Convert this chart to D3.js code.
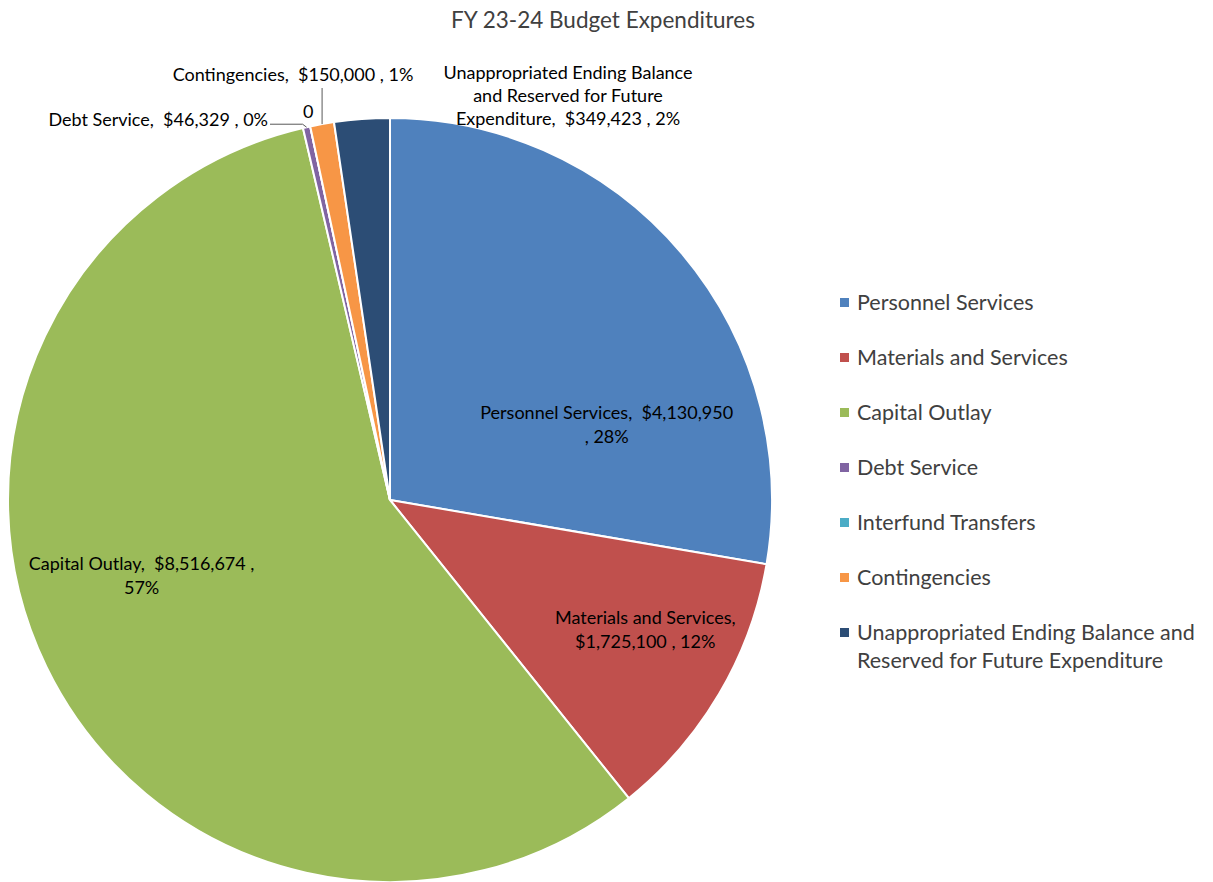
<!DOCTYPE html>
<html>
<head>
<meta charset="utf-8">
<script src="https://cdn.jsdelivr.net/npm/d3@7"></script>
<style>
  body { margin: 0; background: #fff; }
  text { font-family: Lato, "Open Sans", sans-serif; white-space: pre; }
</style>
</head>
<body>
<div id="chart"></div>
<script>
const categories = [
  "Personnel Services",
  "Materials and Services",
  "Capital Outlay",
  "Debt Service",
  "Interfund Transfers",
  "Contingencies",
  "Unappropriated Ending Balance and Reserved for Future Expenditure"
]
const values = [4130950, 1725100, 8516674, 46329, 0, 150000, 349423]
const colors = ["#4F81BD", "#C0504D", "#9BBB59", "#8064A2", "#4BACC6", "#F79646", "#2C4D75"]
const legendLines = [
  ["Personnel Services"],
  ["Materials and Services"],
  ["Capital Outlay"],
  ["Debt Service"],
  ["Interfund Transfers"],
  ["Contingencies"],
  ["Unappropriated Ending Balance and", "Reserved for Future Expenditure"]
]

const width = 1213, height = 882
const cx = 390, cy = 500, r = 382
const labelSize = 18

const total = d3.sum(values)
const fmt = d3.format("$,")
const pct = v => Math.round(v / total * 100) + "%"

// label placement (Excel "best fit" look): angle in deg from 12 o'clock, radius fraction, text lines
const labelLayout = [
  { ang: 71, rf: 0.6, lines: d => [`Personnel Services,  ${fmt(d)}`, `, ${pct(d)}`] },
  { ang: 117, rf: 0.75, lines: d => ["Materials and Services,", `${fmt(d)} , ${pct(d)}`] },
  { ang: 253, rf: 0.68, lines: d => [`Capital Outlay,  ${fmt(d)} ,`, pct(d)] }
]

const svg = d3.select("#chart").append("svg")
  .attr("width", width)
  .attr("height", height)

svg.append("text")
  .attr("x", 603).attr("y", 28)
  .attr("text-anchor", "middle")
  .attr("font-size", 22.5)
  .attr("fill", "#404040")
  .text("FY 23-24 Budget Expenditures")

const pie = d3.pie().sort(null).value(d => d)
const arcs = pie(values)
const arc = d3.arc().innerRadius(0).outerRadius(r)

const g = svg.append("g").attr("transform", `translate(${cx},${cy})`)

g.selectAll("path")
  .data(arcs)
  .join("path")
  .attr("d", arc)
  .attr("fill", (d, i) => colors[i])
  .attr("stroke", "#fff")
  .attr("stroke-width", 2)

// inside labels
labelLayout.forEach((L, i) => {
  const a = L.ang * Math.PI / 180
  const x = Math.sin(a) * r * L.rf
  const y = -Math.cos(a) * r * L.rf
  const t = g.append("text")
    .attr("text-anchor", "middle")
    .attr("font-size", labelSize)
    .attr("fill", "#000")
  L.lines(values[i]).forEach((s, k, arr) => {
    t.append("tspan")
      .attr("x", x)
      .attr("y", y + (k - (arr.length - 1) / 2) * 24 + 6)
      .text(s)
  })
})

// outside labels for small slices
const edge = (d, k) => {
  const a = (d.startAngle + d.endAngle) / 2
  return [Math.sin(a) * r * k, -Math.cos(a) * r * k]
}
const lineColor = "#595959"

// Debt Service
{
  const d = arcs[3]
  const [ex, ey] = edge(d, 1.0)
  const p = [[ex, ey], [ex - 4, ey - 3], [-120, ey - 3]]
  g.append("path").attr("d", d3.line()(p)).attr("fill", "none").attr("stroke", lineColor).attr("stroke-width", 1)
  g.append("text").attr("x", -122).attr("y", ey - 1)
    .attr("text-anchor", "end").attr("font-size", labelSize)
    .text(`Debt Service,  ${fmt(values[3])} , ${pct(values[3])}`)
}
// Interfund Transfers (zero)
{
  const d = arcs[4]
  const [ex, ey] = edge(d, 1.0)
  g.append("text").attr("x", ex - 2).attr("y", ey - 8)
    .attr("text-anchor", "middle").attr("font-size", labelSize).text(values[4])
}
// Contingencies
{
  const d = arcs[5]
  const [ex, ey] = edge(d, 1.0)
  g.append("path").attr("d", d3.line()([[ex, ey], [ex, -412]]))
    .attr("fill", "none").attr("stroke", lineColor).attr("stroke-width", 1)
  g.append("text").attr("x", -97).attr("y", -419)
    .attr("text-anchor", "middle").attr("font-size", labelSize)
    .text(`Contingencies,  ${fmt(values[5])} , ${pct(values[5])}`)
}
// Unappropriated
{
  const v = values[6]
  const t = g.append("text").attr("text-anchor", "middle").attr("font-size", labelSize)
  ;["Unappropriated Ending Balance", "and Reserved for Future", `Expenditure,  ${fmt(v)} , ${pct(v)}`]
    .forEach((s, k) => t.append("tspan").attr("x", 178).attr("y", -421 + k * 23).text(s))
}

// legend
const leg = svg.append("g").attr("transform", "translate(840,303)")
let yy = 0
legendLines.forEach((lines, i) => {
  const item = leg.append("g").attr("transform", `translate(0,${yy})`)
  item.append("rect").attr("x", 0).attr("y", -5).attr("width", 9).attr("height", 9).attr("fill", colors[i])
  lines.forEach((s, k) => {
    item.append("text").attr("x", 17).attr("y", k * 28 + 7)
      .attr("font-size", 21.5).attr("fill", "#404040").text(s)
  })
  yy += 55
})
</script>
</body>
</html>
